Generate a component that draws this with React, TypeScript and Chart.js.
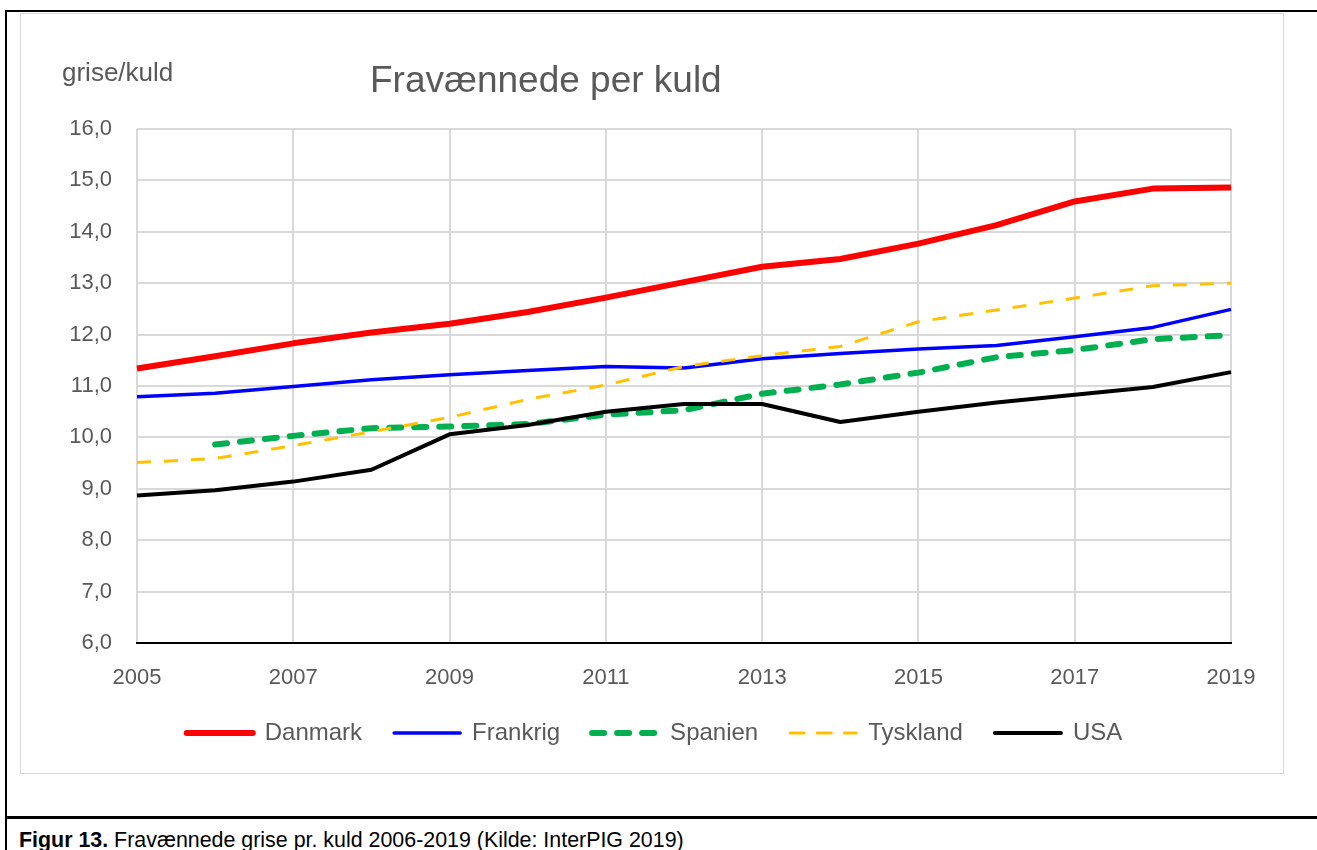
import React, { useEffect, useRef } from "react";
import { Chart, registerables } from "chart.js";

Chart.register(...registerables);

const years = ["2005","2006","2007","2008","2009","2010","2011","2012","2013","2014","2015","2016","2017","2018","2019"];
const danmark = [11.34, 11.58, 11.83, 12.04, 12.21, 12.44, 12.72, 13.02, 13.32, 13.47, 13.77, 14.13, 14.59, 14.84, 14.86];
const frankrig = [10.79, 10.86, 10.99, 11.12, 11.22, 11.30, 11.38, 11.35, 11.53, 11.63, 11.72, 11.79, 11.96, 12.14, 12.49];
const spanien = [null, 9.86, 10.03, 10.18, 10.21, 10.26, 10.44, 10.53, 10.85, 11.03, 11.26, 11.56, 11.70, 11.91, 11.99];
const tyskland = [9.51, 9.59, 9.84, 10.11, 10.39, 10.74, 11.02, 11.38, 11.59, 11.77, 12.25, 12.48, 12.71, 12.95, 13.0];
const usa = [8.87, 8.97, 9.14, 9.37, 10.06, 10.24, 10.5, 10.65, 10.65, 10.3, 10.5, 10.68, 10.83, 10.98, 11.27];
const yTicks = { min: 6, max: 16, step: 1 };

const chartTitle = "Fravænnede per kuld";
const yTitle = "grise/kuld";
const captionBold = "Figur 13.";
const captionText = " Fravænnede grise pr. kuld 2006-2019 (Kilde: InterPIG 2019)";

const FONT = "'Liberation Sans', Arial, sans-serif";
const GREY = "#595959";
const LEGEND_SHIFT = 26;

const legendShift = {
  id: "legendShift",
  afterLayout(chart: any) {
    const lg = chart.legend;
    if (lg) {
      lg.left += LEGEND_SHIFT;
      lg.right += LEGEND_SHIFT;
    }
  },
};

export default function App() {
  const ref = useRef<HTMLCanvasElement | null>(null);

  useEffect(() => {
    if (!ref.current) return;
    const chart = new Chart(ref.current, {
      type: "line",
      data: {
        labels: years,
        datasets: [
          { label: "Danmark", data: danmark, borderColor: "#FF0000", backgroundColor: "#FF0000", borderWidth: 6, order: 5 },
          { label: "Frankrig", data: frankrig, borderColor: "#0000FF", backgroundColor: "#0000FF", borderWidth: 3.5, order: 4 },
          { label: "Spanien", data: spanien, borderColor: "#00B050", backgroundColor: "#00B050", borderWidth: 6, borderDash: [12, 13], borderCapStyle: "round", order: 3 },
          { label: "Tyskland", data: tyskland, borderColor: "#FFC000", backgroundColor: "#FFC000", borderWidth: 3, borderDash: [14, 13], order: 2 },
          { label: "USA", data: usa, borderColor: "#000000", backgroundColor: "#000000", borderWidth: 4, order: 1 },
        ].map((d: any) => ({ ...d, pointRadius: 0, pointHoverRadius: 0, tension: 0, borderJoinStyle: "round", fill: false })),
      },
      plugins: [legendShift],
      options: {
        animation: false,
        responsive: false,
        maintainAspectRatio: false,
        layout: { padding: { left: 5, right: 51, top: 115, bottom: 17 } },
        plugins: {
          title: { display: false },
          tooltip: { enabled: false },
          legend: {
            display: true,
            position: "bottom",
            labels: {
              usePointStyle: true,
              pointStyle: "line",
              pointStyleWidth: 66,
              padding: 32,
              color: GREY,
              font: { family: FONT, size: 24 },
              generateLabels: (c: any) =>
                c.data.datasets.map((ds: any, i: number) => ({
                  text: ds.label,
                  fillStyle: ds.borderColor,
                  strokeStyle: ds.borderColor,
                  lineWidth: ds.borderWidth,
                  lineDash: ds.borderDash || [],
                  lineCap: "round",
                  lineJoin: "round",
                  pointStyle: "line",
                  hidden: false,
                  fontColor: GREY,
                  datasetIndex: i,
                })),
            },
          },
        },
        scales: {
          x: {
            type: "category",
            offset: false,
            afterFit: (s: any) => { s.height = 46; },
            border: { display: true, color: "#000000", width: 2 },
            grid: {
              drawTicks: false,
              lineWidth: 2,
              color: (ctx: any) => (ctx.index % 2 === 0 ? "#d9d9d9" : "rgba(0,0,0,0)"),
            },
            ticks: {
              autoSkip: false,
              maxRotation: 0,
              padding: 22,
              color: GREY,
              font: { family: FONT, size: 22 },
              callback: (_v: any, i: number) => (i % 2 === 0 ? years[i] : ""),
            },
          },
          y: {
            min: yTicks.min,
            max: yTicks.max,
            afterFit: (s: any) => { s.width = 111; },
            border: { display: false },
            grid: { drawTicks: false, lineWidth: 2, color: "#d9d9d9" },
            ticks: {
              stepSize: yTicks.step,
              padding: 25,
              color: GREY,
              font: { family: FONT, size: 22 },
              callback: (v: any) => Number(v).toFixed(1).replace(".", ","),
            },
          },
        },
      },
    } as any);
    return () => chart.destroy();
  }, []);

  const abs = (s: React.CSSProperties): React.CSSProperties => ({ position: "absolute", ...s });

  return (
    <div style={abs({ left: 0, top: 0, width: 1317, height: 850, overflow: "hidden", background: "#fff" })}>
      <div style={abs({ left: 5, top: 10, width: 1312, height: 2, background: "#000" })} />
      <div style={abs({ left: 5, top: 10, width: 2, height: 840, background: "#000" })} />
      <div style={abs({ left: 5, top: 816, width: 1312, height: 3, background: "#000" })} />
      <div style={abs({ left: 20, top: 13, width: 1264, height: 761, border: "1px solid #d9d9d9", boxSizing: "border-box" })} />
      <canvas ref={ref} width={1261} height={758} style={abs({ left: 21, top: 14, width: 1261, height: 758 })} />
      <div style={abs({ left: 370, top: 61, fontFamily: FONT, fontSize: 37, lineHeight: 1, color: GREY, whiteSpace: "nowrap" })}>{chartTitle}</div>
      <div style={abs({ left: 62, top: 59, fontFamily: FONT, fontSize: 26, lineHeight: 1, color: GREY, whiteSpace: "nowrap" })}>{yTitle}</div>
      <div style={abs({ left: 19, top: 830, fontFamily: FONT, fontSize: 21.4, lineHeight: 1, color: "#000", whiteSpace: "nowrap" })}>
        <b>{captionBold}</b>{captionText}
      </div>
    </div>
  );
}
